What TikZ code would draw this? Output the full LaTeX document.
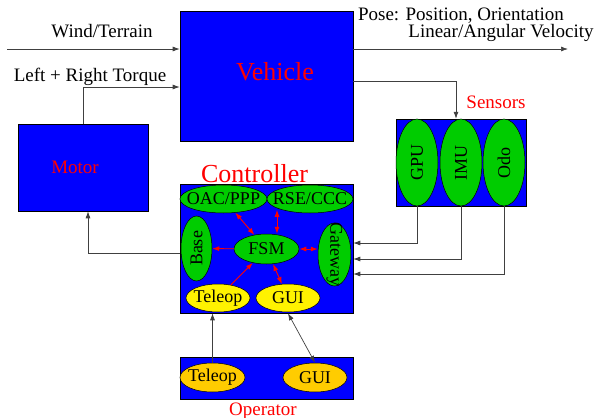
\documentclass[tikz,border=0pt]{standalone}
\usepackage{fontspec}
\setmainfont{Liberation Serif}
\usepackage{graphicx}
\usetikzlibrary{arrows.meta,shapes.geometric,calc}
\definecolor{opgold}{RGB}{255,204,0}

\begin{document}
\begin{tikzpicture}[x=1pt, y=-1pt, >={Latex[length=7pt,width=5pt]},
    every node/.style={font=\fontsize{19}{21}\selectfont, inner sep=0pt},
    every label/.style={font=\fontsize{18}{20}\selectfont, inner sep=0pt},
    box/.style={draw=black, fill=blue, line width=0.6pt},
    greenell/.style={ellipse, draw=black, fill=green!80!black, line width=0.5pt},
    yellowell/.style={ellipse, draw=black, fill=yellow, line width=0.5pt},
    goldell/.style={ellipse, draw=black, fill=opgold, line width=0.5pt},
    redtxt/.style={text=red},
    bigtxt/.style={font=\fontsize{26}{28}\selectfont},
    link/.style={draw=black!75, line width=0.7pt},
    redlink/.style={draw=red, fill=red, line width=0.9pt, >={Latex[length=7pt,width=5pt]}}]
                \useasboundingbox (0,0) rectangle (595,418);

                % Blocks
                \node[box, minimum width=173pt, minimum height=130pt] (vehicle) at (266.5,76) {};
                \node[box, minimum width=130pt, minimum height=87pt] (motor) at (83,167.5) {};
                \node[box, minimum width=173pt, minimum height=129pt] (controller) at (266.5,248.5) {};
                \node[box, minimum width=130pt, minimum height=87pt] (sensors) at (461,162.5) {};
                \node[box, minimum width=173pt, minimum height=42pt] (operator) at (266.5,378) {};

                % Block titles
                \node[redtxt, bigtxt, anchor=base] (vehiclelabel) at (275,80) {Vehicle};
                \node[redtxt, anchor=base] (motorlabel) at (75,173) {Motor};
                \node[redtxt, bigtxt, anchor=base] (controllerlabel) at (254.5,182) {Controller};
                \node[redtxt, anchor=base] (sensorslabel) at (496,108) {Sensors};
                \node[redtxt, anchor=base] (operatorlabel) at (263,415) {Operator};

                % Sensors
                \node[greenell, minimum width=42pt, minimum height=87pt, label={[rotate=90]center:GPU}] (gpu) at (417,162.5) {};
                \node[greenell, minimum width=42pt, minimum height=87pt, label={[rotate=90]center:IMU}] (imu) at (461,162.5) {};
                \node[greenell, minimum width=42pt, minimum height=87pt, label={[rotate=90]center:Odo}] (odo) at (504,162.5) {};

                % Controller parts
                \node[greenell, minimum width=87pt, minimum height=28pt, label=center:OAC/PPP] (oac) at (223.5,199) {};
                \node[greenell, minimum width=86pt, minimum height=28pt, label=center:RSE/CCC] (rse) at (310,199) {};
                \node[greenell, minimum width=31pt, minimum height=65pt, label={[rotate=90]center:Base}] (base) at (196.5,248.5) {};
                \node[greenell, minimum width=65pt, minimum height=30pt, label=center:FSM] (fsm) at (266.5,249) {};
                \node[greenell, minimum width=33pt, minimum height=63pt, label={[rotate=-90]center:Gateway}] (gateway) at (334.5,254.5) {};
                \node[yellowell, minimum width=64pt, minimum height=28pt, label=center:Teleop] (ctrlteleop) at (218,298) {};
                \node[yellowell, minimum width=64pt, minimum height=28pt, label=center:GUI] (ctrlgui) at (288,298) {};

                % Operator parts
                \node[goldell, minimum width=65pt, minimum height=29pt, label=center:Teleop] (opteleop) at (212.5,377.5) {};
                \node[goldell, minimum width=64pt, minimum height=29pt, label=center:GUI] (opgui) at (315,377.5) {};

                % Inside the controller
                \draw[redlink, <->] (fsm) -- (oac);
                \draw[redlink, <->] ([xshift=10.5pt]fsm.north) -- ++(0,-24);
                \draw[redlink, ->] (fsm) -- (base);
                \draw[redlink, <->] (fsm.east) -- (fsm.east -| gateway.west);
                \draw[redlink, ->] (ctrlteleop) -- (fsm);
                \draw[redlink, <->] (fsm) -- (ctrlgui);

                % Signals between blocks
                \coordinate (windin) at (7,49);
                \draw[link, ->] (windin) -- (windin -| vehicle.west);
                \node[anchor=base] (windlabel) at (102,37) {Wind/Terrain};
                \draw[link, ->] (motor.north) |- (vehicle.west |- 0,87);
                \node[anchor=base] (torquelabel) at (90,81) {Left + Right Torque};
                \coordinate (poseout) at (568,49);
                \draw[link, ->] (vehicle.east |- poseout) -- (poseout);
                \node[anchor=base] (poselabel) at (461,20) {Pose: Position, Orientation};
                \node[anchor=base] (velolabel) at (501,37) {Linear/Angular Velocity};
                \draw[link, ->] (vehicle.east |- 0,81) -| ([xshift=-5pt]imu.north);
                \draw[link, ->] (gpu.south) |- (controller.east |- 0,243);
                \draw[link, ->] (imu.south) |- (controller.east |- 0,259);
                \draw[link, ->] (odo.south) |- (controller.east |- 0,274);
                \draw[link, ->] (controller.west |- 0,253) -| ([xshift=5pt]motor.south);
                \draw[link, ->] (opteleop.north) -- (opteleop.north |- controller.south);
                \draw[link, <->] (ctrlgui.south |- controller.south) -- (opgui.north);
            \end{tikzpicture}
\end{document}
